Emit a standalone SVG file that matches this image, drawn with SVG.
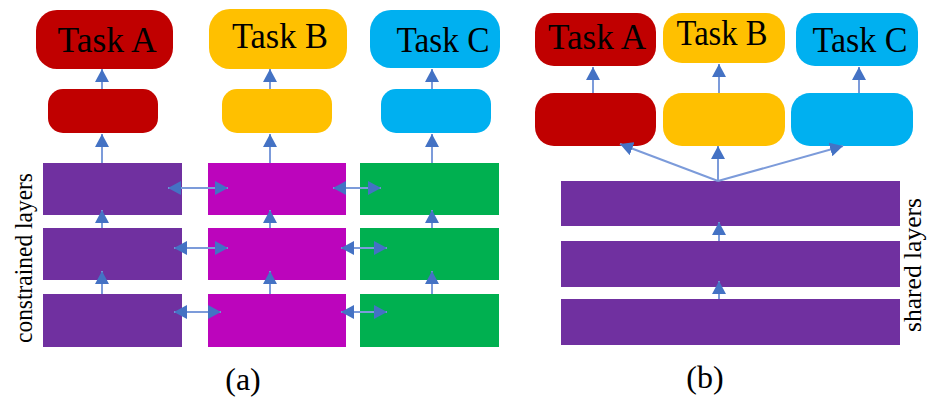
<svg xmlns="http://www.w3.org/2000/svg" width="928" height="397" viewBox="0 0 928 397">
<defs>
<style>
.red{fill:#C00000}.yel{fill:#FFC000}.cya{fill:#00B0F0}.pur{fill:#7030A0}.mag{fill:#BC05BC}.grn{fill:#00B050}
text{font-family:'Times New Roman','Liberation Serif',serif;fill:#000;text-anchor:middle}
.t{font-size:36px}
.lbl{font-size:26px}
.cap{font-size:32px}
.a{stroke:#7C9BDA;stroke-width:2;fill:none;marker-end:url(#ah)}
.d{stroke:#7C9BDA;stroke-width:2;fill:none;marker-end:url(#ah);marker-start:url(#ah)}
</style>
<marker id="ah" viewBox="0 0 13 14" refX="13" refY="7" markerWidth="13" markerHeight="14" markerUnits="userSpaceOnUse" orient="auto-start-reverse">
<path d="M0,0 L13,7 L0,14 Z" fill="#4472C4"/>
</marker>
</defs>

<!-- Panel (a) -->
<g id="a-taskA"><rect class="red" x="36" y="10" width="137" height="59" rx="21"/><text class="t" x="107" y="52" textLength="99" lengthAdjust="spacingAndGlyphs">Task A</text></g>
<g id="a-taskB"><rect class="yel" x="209" y="9" width="138" height="60" rx="21"/><text class="t" x="280" y="48" textLength="96" lengthAdjust="spacingAndGlyphs">Task B</text></g>
<g id="a-taskC"><rect class="cya" x="370" y="10" width="130" height="58" rx="21"/><text class="t" x="443" y="52" textLength="93" lengthAdjust="spacingAndGlyphs">Task C</text></g>
<g id="a-midA"><rect class="red" x="48" y="89" width="110" height="44" rx="15"/></g>
<g id="a-midB"><rect class="yel" x="222" y="89" width="110" height="44" rx="15"/></g>
<g id="a-midC"><rect class="cya" x="381" y="89" width="110" height="44" rx="15"/></g>
<g id="a-layers-A">
<rect class="pur" x="43" y="163" width="139" height="52"/>
<rect class="pur" x="43" y="228" width="139" height="52"/>
<rect class="pur" x="43" y="294" width="139" height="53"/>
</g>
<g id="a-layers-B">
<rect class="mag" x="208" y="163" width="138" height="52"/>
<rect class="mag" x="208" y="228" width="138" height="52"/>
<rect class="mag" x="208" y="294" width="138" height="53"/>
</g>
<g id="a-layers-C">
<rect class="grn" x="360" y="163" width="139" height="52"/>
<rect class="grn" x="360" y="228" width="139" height="52"/>
<rect class="grn" x="360" y="294" width="139" height="53"/>
</g>
<g id="a-label"><text class="lbl" transform="translate(32,258) rotate(-90)" textLength="170" lengthAdjust="spacingAndGlyphs">constrained layers</text></g>
<g id="a-caption"><text class="cap" x="243" y="390">(a)</text></g>

<!-- Panel (b) -->
<g id="b-taskA"><rect class="red" x="535" y="13" width="121" height="53" rx="19"/><text class="t" x="597" y="49" textLength="98" lengthAdjust="spacingAndGlyphs">Task A</text></g>
<g id="b-taskB"><rect class="yel" x="663" y="13" width="122" height="50" rx="19"/><text class="t" x="722" y="45" textLength="91" lengthAdjust="spacingAndGlyphs">Task B</text></g>
<g id="b-taskC"><rect class="cya" x="796" y="13" width="122" height="53" rx="19"/><text class="t" x="860" y="52" textLength="95" lengthAdjust="spacingAndGlyphs">Task C</text></g>
<g id="b-midA"><rect class="red" x="535" y="93" width="121" height="53" rx="19"/></g>
<g id="b-midB"><rect class="yel" x="663" y="93" width="122" height="53" rx="19"/></g>
<g id="b-midC"><rect class="cya" x="791" y="93" width="122" height="53" rx="19"/></g>
<g id="b-shared">
<rect class="pur" x="561" y="181" width="339" height="45"/>
<rect class="pur" x="561" y="241" width="339" height="46"/>
<rect class="pur" x="561" y="299" width="339" height="46"/>
</g>
<g id="b-label"><text class="lbl" transform="translate(921,265) rotate(-90)" font-size="24" textLength="134" lengthAdjust="spacingAndGlyphs">shared layers</text></g>
<g id="b-caption"><text class="cap" x="705" y="388">(b)</text></g>

<g id="connectors">
<line class="a" x1="102" y1="89" x2="102" y2="69"/>
<line class="a" x1="270" y1="89" x2="270" y2="69"/>
<line class="a" x1="432" y1="89" x2="432" y2="69"/>
<line class="a" x1="102" y1="163" x2="102" y2="134"/>
<line class="a" x1="270" y1="163" x2="270" y2="134"/>
<line class="a" x1="432" y1="163" x2="432" y2="134"/>
<line class="a" x1="102" y1="228" x2="102" y2="210"/>
<line class="a" x1="270" y1="228" x2="270" y2="210"/>
<line class="a" x1="432" y1="228" x2="432" y2="210"/>
<line class="a" x1="102" y1="294" x2="102" y2="271"/>
<line class="a" x1="270" y1="294" x2="270" y2="271"/>
<line class="a" x1="432" y1="294" x2="432" y2="271"/>
<line class="d" x1="168" y1="188" x2="228" y2="188"/>
<line class="d" x1="333" y1="188" x2="381" y2="188"/>
<line class="d" x1="174" y1="248" x2="228" y2="248"/>
<line class="d" x1="341" y1="248" x2="387" y2="248"/>
<line class="d" x1="174" y1="312" x2="221" y2="312"/>
<line class="d" x1="341" y1="312" x2="387" y2="312"/>
<line class="a" x1="593" y1="93" x2="593" y2="67"/>
<line class="a" x1="719" y1="93" x2="719" y2="64"/>
<line class="a" x1="859" y1="93" x2="859" y2="67"/>
<line class="a" x1="718" y1="181" x2="620" y2="144"/>
<line class="a" x1="718" y1="181" x2="718" y2="146"/>
<line class="a" x1="718" y1="181" x2="843" y2="146"/>
<line class="a" x1="719" y1="241" x2="719" y2="222"/>
<line class="a" x1="719" y1="299" x2="719" y2="281"/>
</g>
</svg>
